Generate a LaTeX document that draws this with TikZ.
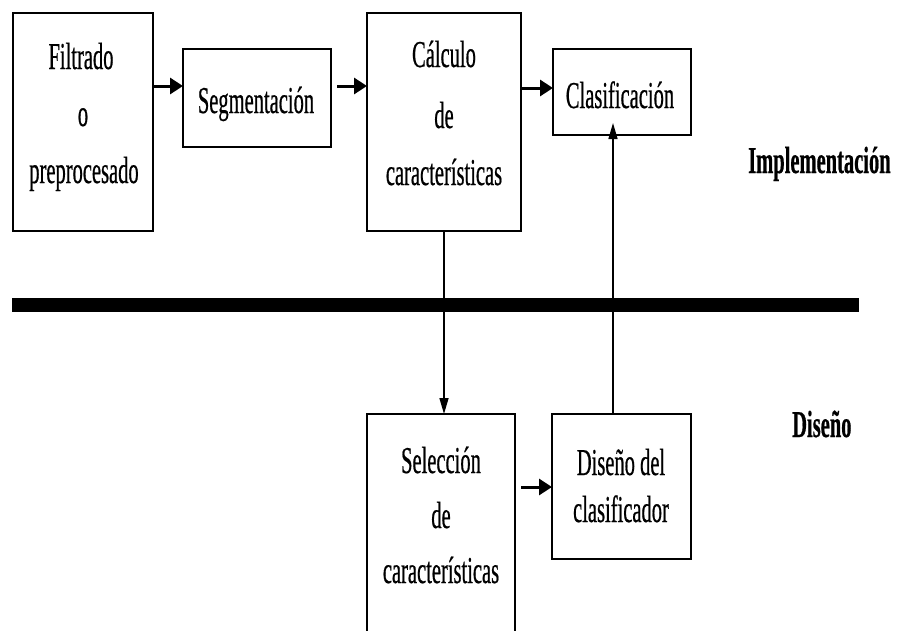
\documentclass[tikz,border=0pt]{standalone}
\usepackage{fontspec}
\setmainfont{Liberation Serif}[FakeStretch=0.54,FakeBold=0.5]
\usetikzlibrary{arrows.meta,calc}
\begin{document}
\begin{tikzpicture}[x=1pt,y=-1pt,
  box/.style={draw, line width=2pt, inner sep=0pt, outer sep=0pt},
  txt/.style={inner sep=0pt, anchor=base, font=\fontsize{38}{44}\selectfont},
  lbl/.style={inner sep=0pt, anchor=base west, font=\fontsize{38}{44}\selectfont\bfseries},
  harr/.style={line width=3pt, -{Triangle[length=13pt,width=16pt]}},
  varr/.style={line width=1.5pt, -{Triangle[length=16pt,width=9pt]}}]
\clip (0,0) rectangle (897,630);
\fill[white] (0,0) rectangle (897,630);
% boxes
\node[box, minimum width=140pt, minimum height=218pt] (b1) at (83,122) {};
\node[box, minimum width=148pt, minimum height=98pt] (b2) at (257,98) {};
\node[box, minimum width=154pt, minimum height=218pt] (b3) at (444,122) {};
\node[box, minimum width=138pt, minimum height=86pt] (b4) at (622,92) {};
\node[box, minimum width=148pt, minimum height=246pt] (b5) at (441,537) {};
\node[box, minimum width=139pt, minimum height=145pt] (b6) at (621.5,486.5) {};
% texts
\node[txt] (t1a) at (81,69) {Filtrado};
\node[txt] (t1b) at (83,126) {o};
\node[txt] (t1c) at (84,183) {preprocesado};
\node[txt] (t2) at (256,113) {Segmentación};
\node[txt] (t3a) at (444,67) {Cálculo};
\node[txt] (t3b) at (444,128) {de};
\node[txt] (t3c) at (444,185) {características};
\node[txt] (t4) at (620,108) {Clasificación};
\node[txt] (t5a) at (441,473) {Selección};
\node[txt] (t5b) at (441,528) {de};
\node[txt] (t5c) at (441,583) {características};
\node[txt] (t6a) at (621,475) {Diseño del};
\node[txt] (t6b) at (621,522) {clasificador};
\node[lbl] (impl) at (748,173) {Implementación};
\node[lbl] (dis) at (792,437) {Diseño};
% separator bar
\coordinate (barL) at (12,305);
\coordinate (barR) at (859,305);
\draw[line width=14pt] (barL) -- (barR);
% connectors
\draw[harr] (b1.east |- 0,86) -- (b2.west |- 0,86);
\draw[harr] ($(b2.east |- 0,86)+(6,0)$) -- (b3.west |- 0,86);
\draw[harr] (b3.east |- 0,88) -- (b4.west |- 0,88);
\draw[harr] ($(b5.east |- 0,487)+(6,0)$) -- (b6.west |- 0,487);
\draw[varr] (b3.south) -- (b5.north -| b3.south);
\draw[varr] (b6.north -| 613,0) -- ($(b4.south -| 613,0)+(0,-12)$);
\end{tikzpicture}
\end{document}
